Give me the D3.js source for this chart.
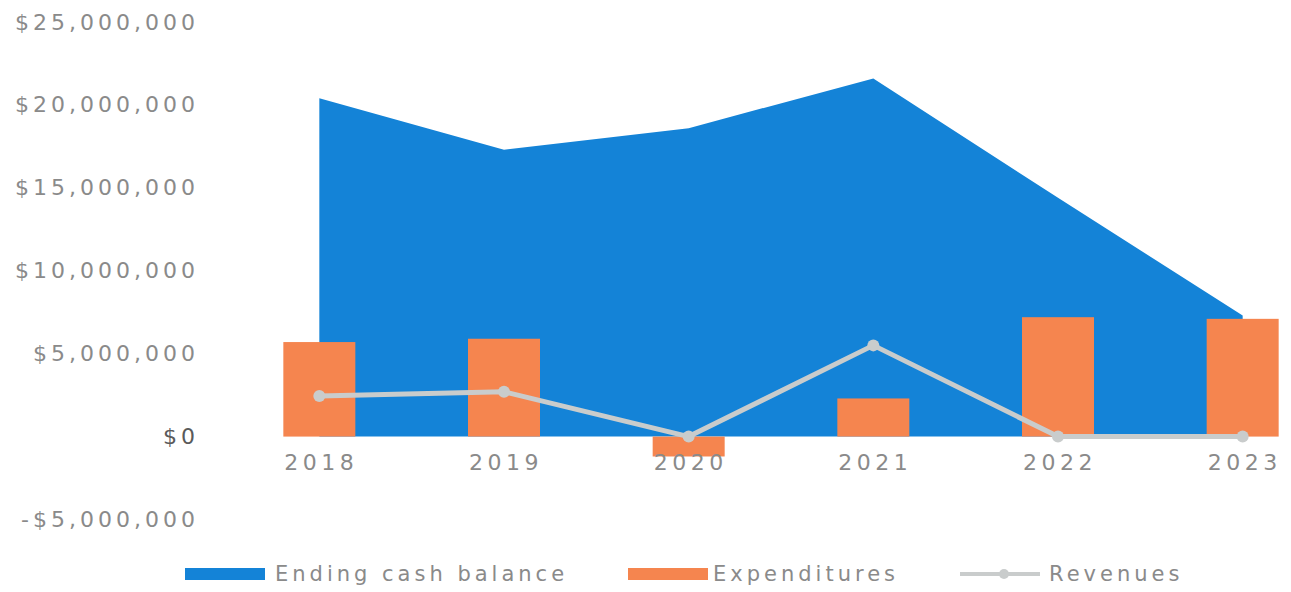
<!DOCTYPE html>
<html>
<head>
<meta charset="utf-8">
<script src="https://cdn.jsdelivr.net/npm/d3@7"></script>
<style>
  html, body { margin: 0; padding: 0; background: #ffffff; }
  svg { display: block; }
  text { font-family: "DejaVu Sans", sans-serif; }
</style>
</head>
<body>
<svg id="chart" width="1291" height="592"></svg>
<script>
// Fund summary by year
const years = ["2018", "2019", "2020", "2021", "2022", "2023"];
const endingCashBalance = [20400000, 17300000, 18600000, 21600000, 14400000, 7300000];
const expenditures = [5700000, 5900000, -1200000, 2300000, 7200000, 7100000];
const revenues = [2450000, 2700000, 0, 5500000, 0, 0];
const yTicks = [-5000000, 0, 5000000, 10000000, 15000000, 20000000, 25000000];
const seriesNames = ["Ending cash balance", "Expenditures", "Revenues"];

const colors = { cash: "#1483D7", exp: "#F5854F", rev: "#C9CCCC", text: "#8A8A8A" };

const svg = d3.select("#chart");

const x = d3.scaleBand().domain(years).range([227, 1335]).paddingInner(0).paddingOuter(0);
const cx = d => x(d) + x.bandwidth() / 2;
const y = d3.scaleLinear().domain([-5000000, 25000000]).range([519.5, 22]);
const barW = 72;

// Ending cash balance area
const area = d3.area()
  .x((d, i) => cx(years[i]))
  .y0(y(0))
  .y1(d => y(d));
svg.append("path")
  .datum(endingCashBalance)
  .attr("d", area)
  .attr("fill", colors.cash);

// Expenditure bars
svg.append("g").selectAll("rect")
  .data(expenditures)
  .join("rect")
  .attr("x", (d, i) => cx(years[i]) - barW / 2)
  .attr("y", d => y(Math.max(0, d)))
  .attr("width", barW)
  .attr("height", d => Math.abs(y(d) - y(0)))
  .attr("fill", colors.exp);

// Revenues line with markers
const line = d3.line()
  .x((d, i) => cx(years[i]))
  .y(d => y(d));
svg.append("path")
  .datum(revenues)
  .attr("d", line)
  .attr("fill", "none")
  .attr("stroke", colors.rev)
  .attr("stroke-width", 5)
  .attr("stroke-linejoin", "round");
svg.append("g").selectAll("circle")
  .data(revenues)
  .join("circle")
  .attr("cx", (d, i) => cx(years[i]))
  .attr("cy", d => y(d))
  .attr("r", 6)
  .attr("fill", colors.rev);

// Y axis labels
const money = v => (v < 0 ? "-$" : "$") + d3.format(",")(Math.abs(v));
const yAxis = d3.axisLeft(y).tickValues(yTicks).tickFormat(money).tickSize(0).tickPadding(0);
const gy = svg.append("g").attr("transform", "translate(199,0)").call(yAxis);
gy.select(".domain").remove();
gy.selectAll("text")
  .attr("font-family", "DejaVu Sans, sans-serif")
  .attr("font-size", 22)
  .attr("letter-spacing", "4px")
  .attr("fill", d => d === 0 ? "#5a5a5a" : colors.text);

// X axis labels
const xAxis = d3.axisBottom(x).tickSize(0).tickPadding(0);
const gx = svg.append("g").attr("transform", "translate(0,454)").call(xAxis);
gx.select(".domain").remove();
gx.selectAll("text")
  .attr("font-family", "DejaVu Sans, sans-serif")
  .attr("font-size", 22)
  .attr("letter-spacing", "4.5px")
  .attr("dx", "2px")
  .attr("fill", colors.text);

// Legend
const legend = svg.append("g").attr("transform", "translate(0,574)");
const legendItems = [
  { name: seriesNames[0], kind: "rect", color: colors.cash, x0: 185, tx: 90 },
  { name: seriesNames[1], kind: "rect", color: colors.exp, x0: 628, tx: 85 },
  { name: seriesNames[2], kind: "line", color: colors.rev, x0: 960, tx: 89 }
];
legendItems.forEach(it => {
  const g = legend.append("g").attr("transform", `translate(${it.x0},0)`);
  if (it.kind === "rect") {
    g.append("rect").attr("x", 0).attr("y", -6).attr("width", 80).attr("height", 12).attr("fill", it.color);
  } else {
    g.append("line").attr("x1", 0).attr("x2", 80).attr("y1", 0).attr("y2", 0)
      .attr("stroke", it.color).attr("stroke-width", 4);
    g.append("circle").attr("cx", 44).attr("cy", 0).attr("r", 5).attr("fill", it.color);
  }
  g.append("text")
    .attr("x", it.tx)
    .attr("y", 0)
    .attr("dy", "0.35em")
    .attr("font-size", 21)
    .attr("letter-spacing", "4px")
    .attr("fill", colors.text)
    .text(it.name);
});
</script>
</body>
</html>
